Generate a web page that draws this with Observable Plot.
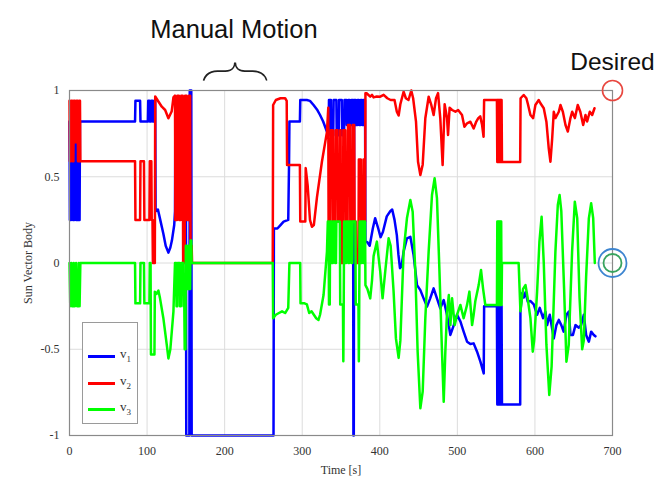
<!DOCTYPE html>
<html><head><meta charset="utf-8">
<script src="https://cdn.jsdelivr.net/npm/d3@7"></script>
<script src="https://cdn.jsdelivr.net/npm/@observablehq/plot@0.6"></script>
<style>
body{margin:0;background:#fff;}
#wrap{position:relative;width:671px;height:483px;}
#legend{position:absolute;left:82px;top:322px;width:56px;height:102px;border:1px solid #9a9a9a;background:#fff;box-sizing:border-box;font-family:"Liberation Serif",serif;font-size:13px;color:#333;}
#legend .item{position:absolute;left:5px;height:10px;}
#legend .sw{position:absolute;left:0;top:3px;width:27px;height:3px;}
#legend .lb{position:absolute;left:32px;top:-6px;white-space:nowrap;}
#legend sub{font-size:9px;}
</style></head><body><div id="wrap"></div>
<script>
// ---- data (time [s], value) ----
const seriesNames = ["v1", "v2", "v3"];
const seriesColors = ["#0000ff", "#ff0000", "#00ff00"];
const xTicks = [0, 100, 200, 300, 400, 500, 600, 700];
const yTicks = [-1, -0.5, 0, 0.5, 1];

const v1 = [[0,0.82],[0.5,0.25],[2,0.25],[2.5,0.82],[4,0.82],[4.5,0.25],[6,0.25],[6.5,0.75],[8,0.75],[8.5,0.25],[10,0.25],[10.5,0.82],[11.5,0.82],[12,0.25],[13,0.25],[13.5,0.82],
[84.5,0.82],[85,0.94],[91,0.94],[91.5,0.82],[101,0.82],[101.5,0.94],[103,0.94],[103.5,0.82],[105,0.82],[105.5,0.94],[107,0.94],[107.5,0.82],[109,0.82],[109.5,0.94],[110.5,0.94],
[111,0.30],[114,0.31],[117,0.25],[121,0.17],[124,0.10],[127.5,0.06],[130,0.09],[132,0.13],[135,0.22],[136,0.30],
[136.5,0.94],[138,0.94],[138.5,0.30],[139.5,0.30],[140,0.94],[142.5,0.94],[143,0.30],[144,0.30],[144.5,0.94],[147,0.94],[147.5,0.35],[148.5,0.35],[149,0.94],[150,0.94],
[150.5,-1],[154.5,-1],[155,1],[157,1],[157.5,-1],[263,-1],
[263.5,0.20],[268,0.20],[272,0.22],[276,0.24],[282,0.25],[283,0.57],[283.5,0.82],[297,0.82],[297.5,0.945],[306,0.945],[310,0.94],[314.6,0.916],[319,0.89],[323,0.858],[327,0.82],[331.9,0.761],[334,0.742],
[334.5,0.945],[337,0.945],[337.5,0.74],[340,0.74],[340.5,0.945],[344,0.945],[344.5,0.74],[347,0.74],[347.5,0.945],[351,0.945],[351.5,0.74],[354,0.74],[354.5,0.945],[357,0.945],[357.5,0.8],[359,0.8],[359.5,0.945],[361,0.945],[361.5,0.8],[363,0.8],[363.5,0.945],[365.5,0.945],[366,-1],[366.5,-1],[367,0.945],[369,0.945],[369.5,0.8],[371,0.8],[371.5,0.945],[373,0.945],[373.5,0.8],[375,0.8],[375.5,0.945],[377,0.945],[377.5,0.8],[378.5,0.8],[379,0.945],[381,0.945],
[381.5,0.124],[384,0.12],[387,0.10],[391,0.20],[394,0.26],[398,0.20],[401,0.15],[404,0.18],[409,0.27],[413.5,0.30],[416,0.31],[419,0.25],[422,0.16],[424,0.05],[426,-0.03],[428,-0.02],[430.7,0.066],[435,0.143],[439.4,0.152],[443.6,0.046],[448,-0.128],[452.3,-0.157],[456.5,-0.205],[460.9,-0.253],[465,-0.205],[469.4,-0.147],[473.7,-0.205],[478,-0.263],[482.4,-0.215],[486.7,-0.301],[491,-0.417],[495.4,-0.36],[499.6,-0.30],[504,-0.34],[508.1,-0.398],[512.5,-0.456],[516.8,-0.47],[521,-0.466],[525.4,-0.514],[529.7,-0.572],[534,-0.64],[534.5,-0.25],[551,-0.25],
[551.5,-0.82],[552,-0.25],[552.5,-0.82],[553,-0.25],[553.5,-0.82],[554,-0.25],[554.5,-0.82],[555,-0.25],[555.5,-0.82],[556,-0.25],[556.5,-0.82],[557,-0.25],[557.5,-0.82],
[581,-0.82],[581.3,-0.28],[583.5,-0.176],[585.5,-0.2],[587.8,-0.17],[590.8,-0.224],[594,-0.22],[598.5,-0.24],[602.8,-0.30],[606.2,-0.26],[610.5,-0.32],[613.5,-0.282],[615.7,-0.36],[619.1,-0.30],[624.3,-0.437],[627.7,-0.36],[630.8,-0.33],[634,-0.36],[637,-0.398],[640.6,-0.30],[643.6,-0.282],[645.8,-0.417],[649,-0.417],[652.3,-0.36],[656.6,-0.375],[659.5,-0.36],[663,-0.30],[666,-0.417],[669.5,-0.456],[672.5,-0.398],[675.9,-0.417],[678,-0.425]];

const v2 = [[0,0.94],[0.5,0.59],[1.5,0.59],[2,0.94],[3.5,0.94],[4,0.59],[5,0.59],[5.5,0.94],[7,0.94],[7.5,0.7],[8.5,0.7],[9,0.94],[10.5,0.94],[11,0.59],[12,0.59],[12.5,0.94],[13.5,0.94],[14,0.59],
[84.5,0.59],[85,0.25],[91,0.25],[91.5,0.59],[96,0.59],[96.5,0.25],[103,0.25],[103.5,0.59],[105.5,0.59],[106,0.25],[107,0.25],[107.5,0.0],[110,0.0],[110.5,0.965],[114.8,0.935],[119,0.906],[123.3,0.887],[127.5,0.839],[131.8,0.88],[134,0.96],[136,0.97],
[136.5,0.25],[138.5,0.25],[139,0.97],[141,0.97],[141.5,0.25],[143.5,0.25],[144,0.97],[146,0.97],[146.5,0.0],[148.5,0.0],[149,0.97],[151,0.97],[151.5,0.25],[153.5,0.25],[154,0.97],[155.5,0.97],[156,0.1],[157.5,0.1],[158,0.0],
[262,0],[262.5,0.916],[266,0.945],[272,0.955],[278,0.955],[280,0.94],[280.5,0.568],[297,0.568],[297.5,0.24],[304,0.24],[304.5,0.55],[307,0.45],[310,0.25],[312.5,0.21],[315,0.22],[319,0.38],[325.4,0.587],[331.9,0.76],[333.6,0.9],
[334,0.24],[336.5,0.24],[337,0.77],[339.5,0.77],[340,0.24],[342.5,0.24],[343,0.77],[345.5,0.77],[346,0.24],[348.5,0.24],[349,0.77],[349.5,0.77],[350,0.0],[352.5,0.0],[353,0.77],[355.5,0.77],[356,0.24],[358.5,0.24],[359,0.8],[361.5,0.8],[362,0.24],[364.5,0.24],[365,0.8],[367,0.8],[367.5,0.24],[369,0.24],[369.5,0.0],[372.5,0.0],[373,0.6],[375.5,0.6],[376,0.24],[378.5,0.24],[379,0.6],[380.5,0.6],[381,0.24],
[381.5,0.984],[383,0.984],[387.7,0.964],[390,0.975],[392,0.96],[396,0.965],[400.6,0.964],[405,0.975],[409.7,0.955],[414,0.945],[419,0.945],[422,0.877],[424.3,0.855],[426.5,0.92],[430.7,0.993],[433.6,0.955],[437,0.945],[440.6,1.0],[443,0.955],[446.7,0.819],[449.3,0.587],[452.3,0.51],[455.3,0.57],[458.7,0.839],[463,0.964],[466.4,0.916],[469.4,0.858],[472.5,0.955],[475.1,0.985],[478,0.839],[481,0.568],[483.6,0.92],[486.7,0.84],[488,0.742],[490,0.9],[493.2,0.887],[497.5,0.877],[501,0.887],[506,0.858],[509.1,0.79],[512.5,0.81],[516.8,0.819],[521,0.78],[524.4,0.82],[527,0.84],[529.5,0.85],[531.9,0.8],[533.8,0.732],[534.5,0.945],[551,0.945],
[551.5,0.585],[552,0.945],[552.5,0.585],[553,0.945],[553.5,0.585],[554,0.945],[554.5,0.585],[555,0.945],[555.5,0.585],[556,0.945],[556.5,0.585],[557,0.945],[557.5,0.585],
[581,0.585],[581.5,0.955],[585.5,0.974],[589,0.955],[591,0.92],[594.2,0.858],[597.7,0.84],[600.6,0.916],[604.9,0.945],[607.1,0.926],[611.4,0.897],[614.8,0.819],[617.8,0.665],[620,0.587],[622.2,0.72],[624.3,0.877],[626.4,0.84],[630.8,0.877],[632.9,0.916],[636,0.877],[639.4,0.80],[642.4,0.762],[645.8,0.84],[648,0.877],[651.5,0.84],[655.2,0.916],[658.5,0.877],[662.2,0.80],[665.2,0.858],[667.3,0.82],[670.7,0.877],[673.8,0.858],[676.8,0.897]];

const v3 = [[0,0],[1,-0.25],[2.5,0],[3.5,-0.25],[5,-0.25],[5.5,0],[7,-0.25],[8.5,0],[10,-0.25],[11.5,-0.25],[12,0],[13,-0.25],[14,0],
[84.5,0],[85,-0.234],[91,-0.234],[91.5,0],[96,0],[96.5,-0.234],[103,-0.234],[103.5,0],[104.5,0],[105,-0.53],[109.5,-0.53],[110,-0.166],[112,-0.18],[114.6,-0.16],[116.7,-0.205],[121,-0.32],[125.4,-0.475],[127.5,-0.553],[130,-0.5],[134,-0.28],[136,0],
[137.5,0],[138,-0.25],[139,-0.25],[139.5,0],[142,0],[142.5,-0.25],[143.5,-0.25],[144,0],[146.5,0],[147,-0.25],[148,-0.25],[148.5,-0.5],[149.5,-0.5],[150,0.1],[151,0.1],[151.5,-0.15],[152.5,-0.15],[153,0.1],[154,0.1],[154.5,-0.15],[155.5,-0.15],[156,0.13],[157,0.13],[157.5,0],
[262,0],[262.5,-0.32],[266,-0.30],[270,-0.29],[274,-0.28],[278,-0.29],[282,-0.26],[283.5,0],[297.4,0],[297.8,-0.234],[303,-0.234],[306,-0.24],[309,-0.29],[312,-0.28],[315,-0.30],[318,-0.32],[321,-0.33],[323,-0.30],[327.5,-0.186],[331.9,0.066],[333,0.24],
[334,0.24],[334.5,-0.24],[335.5,-0.24],[336,0.24],[338,0.24],[338.5,0],[339.5,0],[340,0.24],[342,0.24],[342.5,0],[343.5,0],[344,0.24],[348.5,0.24],[349,-0.24],[352.5,-0.24],[353,-0.57],[353.5,-0.24],[354,0.24],[355,0.24],[355.5,0],[356.5,0],[357,0.24],[359,0.24],[359.5,0],[360.5,0],[361,0.24],[363,0.24],[363.5,0],[364.5,0],[365,0.24],[368.5,0.24],[369,-0.24],[372.5,-0.24],[373,-0.57],[373.5,-0.24],[374,0.24],[375,0.24],[375.5,0],[376.5,0],[377,0.24],[378.5,0.24],[379,0],[380,0],[380.5,0.24],[381,0.24],
[381.5,-0.128],[384,-0.15],[387.7,-0.205],[390,-0.1],[392,0.04],[396.3,0.124],[398,0.05],[400.6,-0.05],[403.6,-0.205],[407,-0.05],[411.4,0.143],[414,0.1],[417.8,-0.166],[420.8,-0.437],[424.3,-0.55],[426.5,-0.45],[430.7,0.066],[435,0.259],[439.4,0.365],[442.4,0.297],[445.8,-0.05],[448.8,-0.514],[452.3,-0.842],[455.3,-0.746],[458.7,-0.32],[463,0.066],[467.3,0.394],[470.7,0.491],[473.7,0.376],[476.8,-0.031],[480.2,-0.514],[482.4,-0.804],[484.5,-0.514],[486.7,-0.282],[489,-0.186],[491,-0.36],[493.2,-0.205],[496.6,-0.36],[499.6,-0.30],[503.9,-0.243],[508.1,-0.32],[512.5,-0.243],[515.5,-0.166],[519,-0.36],[521,-0.30],[523.2,-0.22],[527.5,-0.128],[530.5,-0.04],[533.1,-0.147],[536,-0.243],[551,-0.243],
[551.5,0.24],[552,-0.243],[552.5,0.24],[553,-0.243],[553.5,0.24],[554,-0.243],[554.5,0.24],[555,-0.243],[555.5,0.24],[556,-0.243],[556.5,0.24],[557,-0.243],[557.5,0],
[579,0],[581.3,-0.28],[584.7,-0.15],[587.8,-0.128],[590.5,-0.2],[594.2,-0.32],[597.2,-0.514],[599,-0.45],[602.8,-0.166],[605.8,0.124],[608.6,0.268],[611.4,0.0],[614.8,-0.475],[618.5,-0.765],[621.5,-0.6],[626.4,0.066],[629.5,0.336],[631.8,0.394],[634,0.3],[637.6,-0.15],[640.6,-0.572],[643.6,-0.475],[647.9,0.066],[651.4,0.355],[654.5,0.26],[657.5,-0.2],[660.9,-0.5],[663,-0.45],[666,-0.08],[669.5,0.259],[672.5,0.346],[675.1,0.26],[677.2,0.0]];

const seriesData = [v1, v2, v3];
const rows = seriesData.flatMap((arr, i) => arr.map(([t, v]) => ({t, v, s: seriesNames[i]})));

// annotation labels
const manualLabel = "Manual Motion";
const desiredLabel = "Desired";
const manualCenterT = 212;
const braceCenterT = 216;
const desiredT = 700;

const sans = "'Liberation Sans', Arial, sans-serif";
const chart = Plot.plot({
  width: 671, height: 483,
  marginLeft: 69, marginRight: 59, marginTop: 90, marginBottom: 48,
  style: {fontFamily: "'Liberation Serif', serif", fontSize: "12px", color: "#333", background: "#fff"},
  x: {domain: [0, 700]},
  y: {domain: [-1, 1]},
  color: {domain: seriesNames, range: seriesColors},
  marks: [
    Plot.gridX(xTicks, {stroke: "#dcdcdc", strokeOpacity: 1}),
    Plot.gridY(yTicks, {stroke: "#dcdcdc", strokeOpacity: 1}),
    Plot.axisX(xTicks, {tickSize: 0, tickPadding: 11, tickFormat: d => String(d), label: "Time [s]", labelAnchor: "center", labelArrow: "none", labelOffset: 38, fontSize: 12}),
    Plot.axisY(yTicks, {tickSize: 0, tickPadding: 10, tickFormat: d => String(d), label: "Sun Vector Body", labelAnchor: "center", labelArrow: "none", labelOffset: 46, fontSize: 12}),
    Plot.line(rows, {x: "t", y: "v", z: "s", stroke: "s", strokeWidth: 2.5}),
    Plot.frame({stroke: "#8a8a8a", strokeWidth: 1.2}),
    Plot.text([manualLabel], {x: manualCenterT, text: d => d, frameAnchor: "top", dy: -71, fontFamily: sans, fontSize: 25.5, fill: "#111"}),
    Plot.text([desiredLabel], {x: desiredT, text: d => d, frameAnchor: "top", dy: -38, fontFamily: sans, fontSize: 24.5, fill: "#111"}),
    Plot.text(["{"], {x: braceCenterT, text: d => d, frameAnchor: "top", dy: -20, rotate: 90, lineAnchor: "middle", fontSize: 64, fontFamily: "Roboto", fontWeight: 100, fill: "#222"}),
    Plot.dot([1], {x: desiredT, y: d => d, r: 10, stroke: "#e8473f", strokeWidth: 1.6, fill: "none"}),
    Plot.dot([0], {x: desiredT, y: d => d, r: 14, stroke: "#3d85d0", strokeWidth: 1.8, fill: "none"}),
    Plot.dot([0], {x: desiredT, y: d => d, r: 9, stroke: "#38a35e", strokeWidth: 1.8, fill: "none"})
  ]
});
document.getElementById("wrap").appendChild(chart);

// legend
const legend = document.createElement("div");
legend.id = "legend";
const legendTops = [29, 56, 82];
seriesNames.forEach((name, i) => {
  const item = document.createElement("div");
  item.className = "item";
  item.style.top = legendTops[i] + "px";
  item.innerHTML = `<div class="sw" style="background:${seriesColors[i]}"></div><div class="lb">v<sub>${i + 1}</sub></div>`;
  legend.appendChild(item);
});
document.getElementById("wrap").appendChild(legend);
</script></body></html>
